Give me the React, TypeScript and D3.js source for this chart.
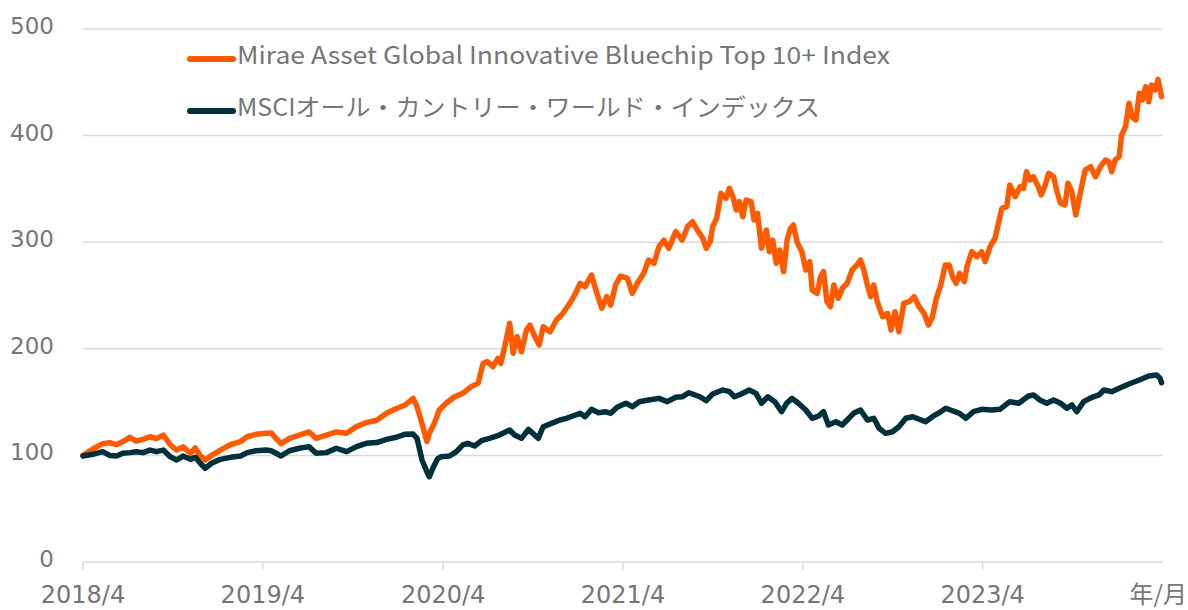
import React from "react";
import * as d3 from "d3";

const yTicks = [0, 100, 200, 300, 400, 500];
const xTickDates = ["2018-04-01", "2019-04-01", "2020-04-01", "2021-04-01", "2022-04-01", "2023-04-01"];
const xTickLabels = ["2018/4", "2019/4", "2020/4", "2021/4", "2022/4", "2023/4"];
const xAxisUnit = "年/月";
const seriesNames = [
  "Mirae Asset Global Innovative Bluechip Top 10+ Index",
  "MSCIオール・カントリー・ワールド・インデックス",
];
const seriesColors = ["#FF5A00", "#00313A"];

const miraeSeries: [string, number][] = [
  ["2018-04-01", 100], ["2018-04-21", 106], ["2018-05-11", 111], ["2018-05-25", 112], ["2018-06-08", 110],
  ["2018-06-21", 113], ["2018-07-05", 117], ["2018-07-18", 113.5], ["2018-08-01", 115], ["2018-08-15", 117.5],
  ["2018-08-28", 115.7], ["2018-09-11", 119], ["2018-09-25", 110], ["2018-10-08", 105], ["2018-10-21", 108],
  ["2018-11-05", 102], ["2018-11-15", 107], ["2018-11-25", 100], ["2018-12-05", 95.7], ["2018-12-18", 100],
  ["2019-01-05", 105], ["2019-01-25", 110], ["2019-02-15", 113], ["2019-02-28", 117.5], ["2019-03-18", 119.8],
  ["2019-04-08", 120.7], ["2019-04-18", 121], ["2019-04-28", 116], ["2019-05-08", 111], ["2019-05-25", 116],
  ["2019-06-14", 119], ["2019-07-04", 122], ["2019-07-18", 116], ["2019-08-08", 119], ["2019-08-28", 122],
  ["2019-09-18", 120.7], ["2019-10-08", 127], ["2019-10-28", 130.7], ["2019-11-18", 133], ["2019-12-08", 139.5],
  ["2019-12-28", 144], ["2020-01-14", 147], ["2020-01-31", 153.5], ["2020-02-08", 145.7], ["2020-02-18", 130],
  ["2020-02-28", 113],
  ["2020-03-04", 120.7], ["2020-03-14", 130], ["2020-03-24", 142.6], ["2020-04-07", 148.9], ["2020-04-24", 155],
  ["2020-05-11", 158.2], ["2020-05-28", 164.5], ["2020-06-11", 167.6], ["2020-06-21", 186.4], ["2020-06-30", 187.9],
  ["2020-07-11", 183.2], ["2020-07-21", 191], ["2020-07-27", 186.4], ["2020-08-04", 202], ["2020-08-14", 223.9],
  ["2020-08-21", 195.8], ["2020-08-29", 211.4], ["2020-09-07", 197.3], ["2020-09-17", 217.6], ["2020-09-24", 222.3],
  ["2020-10-04", 211.4], ["2020-10-13", 203.6], ["2020-10-21", 220.7], ["2020-11-04", 216], ["2020-11-17", 227],
  ["2020-11-30", 233.3], ["2020-12-14", 242.7], ["2020-12-24", 250.5], ["2021-01-04", 261.4], ["2021-01-14", 258.3],
  ["2021-01-27", 269.2], ["2021-02-07", 252], ["2021-02-17", 238], ["2021-02-27", 248.9], ["2021-03-07", 241],
  ["2021-03-17", 259.9], ["2021-03-27", 268.3], ["2021-04-10", 266.1], ["2021-04-20", 252], ["2021-04-30", 261.4],
  ["2021-05-13", 270.8], ["2021-05-23", 283.3], ["2021-06-03", 280.2], ["2021-06-13", 295.8], ["2021-06-23", 302],
  ["2021-07-03", 294.3], ["2021-07-17", 309.9], ["2021-07-30", 302],
  ["2021-08-10", 314.5], ["2021-08-20", 319.2], ["2021-08-30", 311.4], ["2021-09-10", 303.6], ["2021-09-17", 294.3],
  ["2021-09-25", 300.5], ["2021-09-30", 314.5], ["2021-10-08", 322.4], ["2021-10-17", 345.8], ["2021-10-27", 341.1],
  ["2021-11-03", 350.6], ["2021-11-10", 342.7], ["2021-11-17", 330.2], ["2021-11-23", 338], ["2021-11-30", 323.9],
  ["2021-12-07", 339.6], ["2021-12-17", 338], ["2021-12-23", 320.8], ["2021-12-30", 327.1], ["2022-01-07", 294.3],
  ["2022-01-17", 311.4], ["2022-01-23", 291.1], ["2022-01-30", 302], ["2022-02-06", 280.2], ["2022-02-13", 292.7],
  ["2022-02-21", 272.3], ["2022-02-28", 302], ["2022-03-07", 313], ["2022-03-13", 316.1], ["2022-03-20", 300.5],
  ["2022-03-30", 291.1], ["2022-04-07", 273.9], ["2022-04-15", 281.7], ["2022-04-20", 255.2], ["2022-04-30", 252],
  ["2022-05-07", 267.6], ["2022-05-13", 272.3], ["2022-05-20", 244.2], ["2022-05-27", 239.5], ["2022-06-03", 259.9],
  ["2022-06-12", 247.4], ["2022-06-20", 256.8], ["2022-06-30", 261.4], ["2022-07-10", 273.9], ["2022-07-20", 278.6],
  ["2022-07-27", 283.3], ["2022-08-03", 273.9], ["2022-08-10", 259.9], ["2022-08-17", 248.9], ["2022-08-23", 259.9],
  ["2022-08-30", 244.2], ["2022-09-10", 230.1], ["2022-09-20", 233.3], ["2022-09-27", 217.6], ["2022-10-05", 234.8],
  ["2022-10-13", 216], ["2022-10-23", 242.7], ["2022-11-03", 244.2], ["2022-11-13", 248.9], ["2022-11-23", 239.5],
  ["2022-12-03", 233.3], ["2022-12-12", 222.3], ["2022-12-20", 230.1], ["2022-12-28", 247.4], ["2023-01-06", 259.9],
  ["2023-01-15", 278.6],
  ["2023-01-23", 278.6], ["2023-01-30", 267.6], ["2023-02-06", 261.4], ["2023-02-13", 270.8], ["2023-02-23", 263],
  ["2023-02-28", 277], ["2023-03-10", 291.1], ["2023-03-20", 286.4], ["2023-03-30", 291.1], ["2023-04-06", 281.7],
  ["2023-04-16", 295.8], ["2023-04-26", 303.7], ["2023-05-03", 317.7], ["2023-05-10", 331.8], ["2023-05-20", 333.3],
  ["2023-05-26", 353.7], ["2023-06-06", 342.7], ["2023-06-16", 352.1], ["2023-06-23", 350.5], ["2023-06-29", 366.1],
  ["2023-07-06", 358.3], ["2023-07-13", 361.4], ["2023-07-23", 352.1], ["2023-07-29", 344.3], ["2023-08-06", 353.7],
  ["2023-08-13", 364.6], ["2023-08-23", 361.4], ["2023-08-29", 349], ["2023-09-06", 336.5], ["2023-09-15", 334.9],
  ["2023-09-21", 355.3], ["2023-09-29", 347.4], ["2023-10-07", 325.5], ["2023-10-16", 345.9], ["2023-10-26", 367.7],
  ["2023-11-06", 370.8], ["2023-11-16", 361.4], ["2023-11-26", 370.8], ["2023-12-06", 377.1], ["2023-12-13", 375.5],
  ["2023-12-19", 366.1], ["2023-12-26", 377.1], ["2024-01-03", 380.2], ["2024-01-08", 400.6], ["2024-01-16", 408.4],
  ["2024-01-23", 430.3], ["2024-01-29", 417.7], ["2024-02-06", 414.6], ["2024-02-13", 439.7], ["2024-02-19", 433.4],
  ["2024-02-26", 445.9], ["2024-03-03", 431.8], ["2024-03-09", 447.5], ["2024-03-16", 442.8], ["2024-03-22", 452.8],
  ["2024-03-29", 436.5],
];

const msciSeries: [string, number][] = [
  ["2018-04-01", 99.4], ["2018-04-21", 101], ["2018-05-11", 103.5], ["2018-05-25", 100], ["2018-06-08", 99.4],
  ["2018-06-21", 102], ["2018-07-05", 102.6], ["2018-07-18", 103.5], ["2018-08-01", 102.6], ["2018-08-15", 105],
  ["2018-08-28", 103.5], ["2018-09-11", 105], ["2018-09-25", 98.8], ["2018-10-08", 95.7], ["2018-10-21", 99.4],
  ["2018-11-05", 96.3], ["2018-11-15", 98.2], ["2018-11-25", 92.6], ["2018-12-05", 87.9], ["2018-12-18", 92.6],
  ["2019-01-05", 96.3], ["2019-01-25", 98.2], ["2019-02-15", 99.4], ["2019-02-28", 102.6], ["2019-03-18", 104.4],
  ["2019-04-08", 105], ["2019-04-18", 104.4], ["2019-04-28", 102], ["2019-05-08", 99.4], ["2019-05-25", 104.4],
  ["2019-06-14", 106.7], ["2019-07-04", 108.2], ["2019-07-18", 102], ["2019-08-08", 102.6], ["2019-08-28", 106.7],
  ["2019-09-18", 103.5], ["2019-10-08", 108.2], ["2019-10-28", 111.3], ["2019-11-18", 112], ["2019-12-08", 115],
  ["2019-12-28", 117], ["2020-01-14", 119.8], ["2020-01-31", 120], ["2020-02-08", 116], ["2020-02-18", 95.7],
  ["2020-02-28", 84.7], ["2020-03-04", 80], ["2020-03-11", 88], ["2020-03-21", 97],
  ["2020-03-28", 98.8], ["2020-04-14", 99.4], ["2020-04-28", 103.5], ["2020-05-11", 109.8], ["2020-05-21", 111.3],
  ["2020-06-04", 108.8], ["2020-06-18", 113.8], ["2020-07-04", 116], ["2020-07-24", 119.1], ["2020-08-14", 123.8],
  ["2020-08-24", 119.1], ["2020-09-07", 116], ["2020-09-21", 124.4], ["2020-09-30", 120.7], ["2020-10-11", 116],
  ["2020-10-21", 126.9], ["2020-11-07", 130], ["2020-11-24", 133.2], ["2020-12-07", 134.8], ["2020-12-20", 137],
  ["2021-01-04", 139.5], ["2021-01-14", 136.3], ["2021-01-27", 143.2], ["2021-02-10", 140.1], ["2021-02-24", 141],
  ["2021-03-07", 139.5], ["2021-03-20", 145.1], ["2021-04-07", 148.9], ["2021-04-20", 145.7], ["2021-05-04", 150.4],
  ["2021-05-23", 152], ["2021-06-13", 153.5], ["2021-06-30", 150.4], ["2021-07-17", 154.5], ["2021-07-30", 155],
  ["2021-08-13", 158.8],
  ["2021-09-04", 155], ["2021-09-17", 151.3], ["2021-09-30", 157.6], ["2021-10-20", 161.4], ["2021-11-03", 159.8],
  ["2021-11-13", 155], ["2021-11-27", 157.6], ["2021-12-13", 161.4], ["2021-12-27", 158.2], ["2022-01-07", 148.9],
  ["2022-01-20", 155], ["2022-02-03", 150.4], ["2022-02-17", 141], ["2022-02-27", 148.9], ["2022-03-10", 153.5],
  ["2022-03-23", 148.9], ["2022-04-07", 142.6], ["2022-04-20", 134.8], ["2022-05-03", 137], ["2022-05-13", 141],
  ["2022-05-23", 128.5], ["2022-06-07", 131.6], ["2022-06-20", 128.5], ["2022-06-30", 133.2], ["2022-07-13", 139.5],
  ["2022-07-27", 142.6], ["2022-08-10", 133.2], ["2022-08-23", 134.8], ["2022-09-03", 125.4], ["2022-09-16", 120.7],
  ["2022-09-30", 122.2], ["2022-10-13", 126.9], ["2022-10-27", 134.8], ["2022-11-10", 136.3], ["2022-11-23", 133.9],
  ["2022-12-06", 131.6], ["2022-12-20", 136.3], ["2023-01-03", 140.1], ["2023-01-16", 144.2],
  ["2023-02-13", 139.5], ["2023-02-26", 134.8], ["2023-03-13", 141], ["2023-03-30", 143.2], ["2023-04-20", 142.6],
  ["2023-05-06", 143.2], ["2023-05-26", 150.4], ["2023-06-13", 148.9], ["2023-07-03", 155.7], ["2023-07-13", 156.7],
  ["2023-07-26", 152], ["2023-08-09", 148.9], ["2023-08-23", 152], ["2023-09-06", 148.9], ["2023-09-19", 144.2],
  ["2023-09-29", 147.3], ["2023-10-09", 141], ["2023-10-23", 150.4], ["2023-11-09", 154.5], ["2023-11-23", 156.7],
  ["2023-12-03", 161.4], ["2023-12-19", 159.8], ["2024-01-03", 162.9], ["2024-01-23", 167], ["2024-02-13", 170.7],
  ["2024-03-03", 174.5], ["2024-03-19", 175.4], ["2024-03-26", 172.3], ["2024-03-29", 168.2],
];

const W = 1188;
const H = 610;
const M = { left: 83, right: 1163, top: 29, bottom: 562 };
const parse = d3.timeParse("%Y-%m-%d");

export default function App() {
  const x = d3
    .scaleTime()
    .domain([parse("2018-04-01") as Date, parse("2024-04-01") as Date])
    .range([M.left, M.right]);
  const y = d3.scaleLinear().domain([0, 500]).range([M.bottom, M.top]);
  const line = d3
    .line<[string, number]>()
    .x((d) => x(parse(d[0]) as Date))
    .y((d) => y(d[1]));

  const textColor = "#767676";
  const gridColor = "#d9d9d9";
  const numFont = "'DejaVu Sans', Verdana, sans-serif";
  const legendFont = "'Noto Sans CJK JP', 'Noto Sans', sans-serif";

  const series = [miraeSeries, msciSeries];
  const legendY = [59, 111];
  const legendWidths = [653, 583];

  return (
    <svg
      width={W}
      height={H}
      viewBox={`0 0 ${W} ${H}`}
      style={{ position: "absolute", left: 0, top: 0, background: "#fff" }}
    >
      {yTicks.map((t) => (
        <g key={t}>
          <line x1={M.left} x2={M.right} y1={y(t)} y2={y(t)} stroke={gridColor} strokeWidth={1.5} />
          <text
            x={54}
            y={y(t) + 5}
            textAnchor="end"
            fontFamily={numFont}
            fontSize={23}
            fill={textColor}
          >
            {t}
          </text>
        </g>
      ))}
      {xTickDates.map((d, i) => {
        const px = x(parse(d) as Date);
        return (
          <g key={d}>
            <line x1={px} x2={px} y1={M.bottom} y2={M.bottom + 8} stroke={gridColor} strokeWidth={1.5} />
            <text x={px} y={603} textAnchor="middle" fontFamily={numFont} fontSize={24} fill={textColor}>
              {xTickLabels[i]}
            </text>
          </g>
        );
      })}
      <text x={1187} y={603} textAnchor="end" fontFamily={legendFont} fontSize={24} fill={textColor}>
        {xAxisUnit}
      </text>

      {series.map((s, i) => (
        <path
          key={i}
          d={line(s) || ""}
          fill="none"
          stroke={seriesColors[i]}
          strokeWidth={5.5}
          strokeLinejoin="round"
          strokeLinecap="round"
        />
      ))}

      {seriesNames.map((name, i) => (
        <g key={name}>
          <line
            x1={190}
            x2={233}
            y1={legendY[i]}
            y2={legendY[i]}
            stroke={seriesColors[i]}
            strokeWidth={6}
            strokeLinecap="round"
          />
          <text
            x={237}
            y={legendY[i] + 5}
            fontFamily={legendFont}
            fontSize={24}
            fill={textColor}
            textLength={legendWidths[i]}
            lengthAdjust="spacingAndGlyphs"
          >
            {name}
          </text>
        </g>
      ))}
    </svg>
  );
}
